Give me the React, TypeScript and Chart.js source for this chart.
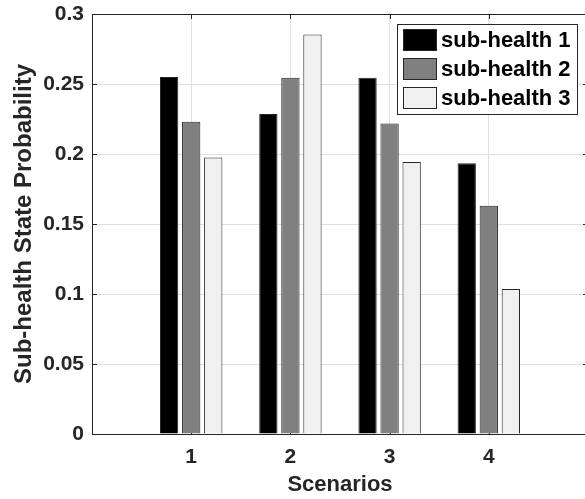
import React, { useEffect, useRef } from "react";
import { Chart, registerables } from "chart.js";

Chart.register(...registerables);

const scenarios = [1, 2, 3, 4];
const seriesNames = ["sub-health 1", "sub-health 2", "sub-health 3"];
const subHealth1 = [0.255, 0.2286, 0.2545, 0.1934];
const subHealth2 = [0.2231, 0.2545, 0.2217, 0.163];
const subHealth3 = [0.1975, 0.2854, 0.1943, 0.1036];
const seriesColors = ["#000000", "#808080", "#f0f0f0"];
const yTicks = [0, 0.05, 0.1, 0.15, 0.2, 0.25, 0.3];

const FONT = "'Liberation Sans', Arial, sans-serif";
const AXIS = "#262626";

const matlabAxes = {
  id: "matlabAxes",
  beforeDatasetsDraw(chart: any) {
    const { ctx, chartArea } = chart;
    const x = chart.scales.x;
    const y = chart.scales.y;
    const L = 5;
    ctx.save();
    ctx.strokeStyle = AXIS;
    ctx.lineWidth = 1;
    ctx.beginPath();
    for (const s of scenarios) {
      const px = Math.round(x.getPixelForValue(s)) + 0.5;
      ctx.moveTo(px, chartArea.bottom);
      ctx.lineTo(px, chartArea.bottom - L);
      ctx.moveTo(px, chartArea.top);
      ctx.lineTo(px, chartArea.top + L);
    }
    for (const t of yTicks) {
      const py = Math.round(y.getPixelForValue(t)) + 0.5;
      ctx.moveTo(chartArea.left, py);
      ctx.lineTo(chartArea.left + L, py);
      ctx.moveTo(chartArea.right, py);
      ctx.lineTo(chartArea.right - L, py);
    }
    const top = Math.round(chartArea.top) + 0.5;
    ctx.moveTo(chartArea.left, top);
    ctx.lineTo(chartArea.right, top);
    ctx.moveTo(chartArea.right - 0.5, chartArea.top);
    ctx.lineTo(chartArea.right - 0.5, chartArea.bottom);
    ctx.stroke();
    ctx.restore();
  },
  afterDraw(chart: any) {
    const { ctx, chartArea } = chart;
    const ds = chart.data.datasets;
    ctx.save();
    ctx.font = `bold 22px ${FONT}`;
    let maxW = 0;
    for (const d of ds) maxW = Math.max(maxW, ctx.measureText(d.label).width);
    const pad = 6;
    const swW = 34;
    const swH = 22;
    const rowH = 29;
    const boxW = Math.round(pad + swW + 4 + maxW + pad);
    const boxH = 5 + rowH * (ds.length - 1) + swH + 5;
    const right = Math.round(chartArea.right) - 11;
    const left = right - boxW;
    const top = Math.round(chartArea.top) + 10;
    ctx.fillStyle = "#ffffff";
    ctx.fillRect(left, top, boxW, boxH);
    ctx.strokeStyle = AXIS;
    ctx.lineWidth = 1;
    ctx.strokeRect(left + 0.5, top + 0.5, boxW, boxH);
    ds.forEach((d: any, i: number) => {
      const sy = top + 5 + i * rowH;
      ctx.fillStyle = d.backgroundColor;
      ctx.fillRect(left + pad, sy, swW, swH);
      ctx.strokeStyle = AXIS;
      ctx.strokeRect(left + pad + 0.5, sy + 0.5, swW - 1, swH - 1);
      ctx.fillStyle = "#000000";
      ctx.textBaseline = "middle";
      ctx.textAlign = "left";
      ctx.fillText(d.label, left + pad + swW + 4, sy + swH / 2 + 1);
    });
    ctx.restore();
  },
};

export default function App() {
  const ref = useRef<HTMLCanvasElement | null>(null);
  useEffect(() => {
    document.body.style.margin = "0";
    if (!ref.current) return;
    const series = [subHealth1, subHealth2, subHealth3];
    const chart = new Chart(ref.current, {
      type: "bar",
      data: {
        datasets: series.map((vals, i) => ({
          label: seriesNames[i],
          data: vals.map((v, j) => ({ x: scenarios[j], y: v })),
          backgroundColor: seriesColors[i],
          borderColor: AXIS,
          borderWidth: 1,
          categoryPercentage: 0.667,
          barPercentage: 0.83,
        })),
      },
      options: {
        animation: false,
        responsive: true,
        maintainAspectRatio: false,
        devicePixelRatio: 1,
        layout: { padding: { top: 14, right: 2, left: 0, bottom: 0 } },
        plugins: { legend: { display: false }, tooltip: { enabled: false } },
        scales: {
          x: {
            type: "linear",
            min: 0,
            max: 5,
            offset: false,
            grid: { offset: false, color: "#e0e0e0", drawTicks: false },
            border: { color: AXIS, width: 1 },
            ticks: {
              stepSize: 1,
              padding: 11,
              color: AXIS,
              font: { family: FONT, size: 21, weight: "bold" },
              callback: (v: any) => (v >= 1 && v <= 4 ? String(v) : ""),
            },
            title: {
              display: true,
              text: "Scenarios",
              color: AXIS,
              font: { family: FONT, size: 22, weight: "bold" },
              padding: { top: 0, bottom: 1 },
            },
            afterFit: (s: any) => {
              s.height = 65;
              s.paddingLeft = 0;
              s.paddingRight = 0;
            },
          },
          y: {
            min: 0,
            max: 0.3,
            grid: { color: "#e0e0e0", drawTicks: false },
            border: { color: AXIS, width: 1 },
            ticks: {
              stepSize: 0.05,
              padding: 8,
              color: AXIS,
              font: { family: FONT, size: 21, weight: "bold" },
              callback: (v: any) => String(Math.round(v * 100) / 100),
            },
            title: {
              display: true,
              text: "Sub-health State Probability",
              color: AXIS,
              font: { family: FONT, size: 24, weight: "bold" },
              padding: { top: 10, bottom: 0 },
            },
            afterFit: (s: any) => {
              s.width = 92;
              s.paddingTop = 0;
              s.paddingBottom = 0;
            },
          },
        },
      },
      plugins: [matlabAxes],
    });
    return () => chart.destroy();
  }, []);
  return (
    <div style={{ width: 585, height: 499, overflow: "hidden", background: "#fff" }}>
      <div style={{ width: 590, height: 499, position: "relative" }}>
        <canvas ref={ref} />
      </div>
    </div>
  );
}
